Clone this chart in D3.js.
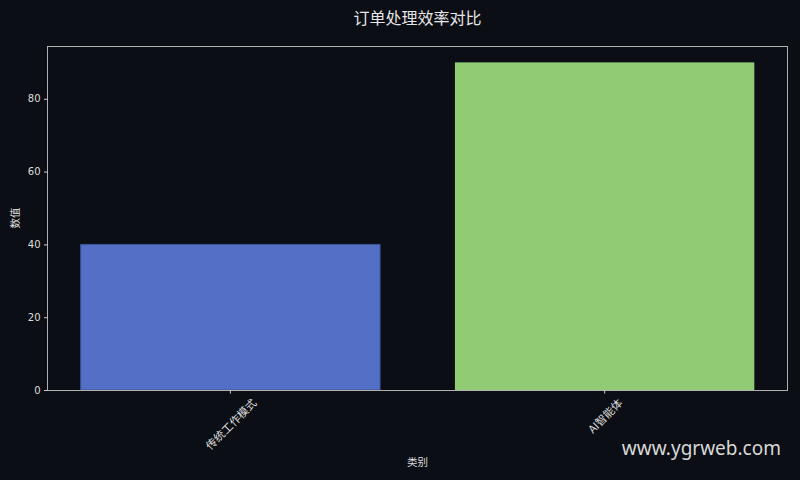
<!DOCTYPE html>
<html>
<head>
<meta charset="utf-8">
<script src="https://cdn.jsdelivr.net/npm/d3@7"></script>
<style>
  html, body { margin: 0; padding: 0; background: #0b0e14; }
  text { font-family: "Noto Sans CJK SC", "DejaVu Sans", sans-serif; }
</style>
</head>
<body>
<script>
const categories = ['传统工作模式', 'AI智能体']
const values = [40, 90]
const barColors = ['#5470c6', '#91cc75']
const yTicks = [0, 20, 40, 60, 80]

const width = 800
const height = 480
const margin = { top: 46, right: 12, bottom: 90, left: 47 }

const svg = d3.select('body')
  .append('svg')
  .attr('width', width)
  .attr('height', height)

svg.append('rect')
  .attr('width', width)
  .attr('height', height)
  .attr('fill', '#0b0e14')

const x = d3.scaleBand()
  .domain(categories)
  .range([margin.left, width - margin.right])
  .paddingInner(0.2)
  .paddingOuter(0.09)

const y = d3.scaleLinear()
  .domain([0, d3.max(values) * 1.05])
  .range([height - margin.bottom, margin.top])

// bars
svg.append('g')
  .selectAll('rect')
  .data(values)
  .join('rect')
  .attr('x', (d, i) => x(categories[i]))
  .attr('y', d => y(d))
  .attr('width', x.bandwidth())
  .attr('height', d => y(0) - y(d))
  .attr('fill', (d, i) => barColors[i])
  .attr('stroke', (d, i) => i === 0 ? '#3e5494' : 'none')
  .attr('stroke-width', 1)

// frame
svg.append('rect')
  .attr('x', margin.left + 0.5)
  .attr('y', margin.top + 0.5)
  .attr('width', width - margin.left - margin.right - 1)
  .attr('height', height - margin.top - margin.bottom)
  .attr('fill', 'none')
  .attr('stroke', '#b0b0b0')
  .attr('stroke-width', 1)

// y axis
const yAxis = svg.append('g')
  .attr('transform', `translate(${margin.left + 0.5},0)`)
  .call(d3.axisLeft(y).tickValues(yTicks).tickSize(3.5).tickPadding(3.5))

yAxis.select('.domain').remove()
yAxis.selectAll('line').attr('stroke', '#cccccc')
yAxis.selectAll('text')
  .attr('fill', '#dddddd')
  .attr('font-size', 10)
  .style('font-family', '"DejaVu Sans", sans-serif')

// x axis
const xAxis = svg.append('g')
  .attr('transform', `translate(0,${height - margin.bottom})`)
  .call(d3.axisBottom(x).tickSize(3.5).tickFormat(''))

xAxis.select('.domain').remove()
xAxis.selectAll('line').attr('stroke', '#cccccc')

// rotated category labels, bounding box centered under tick
const labels = svg.append('g')
categories.forEach((c) => {
  const cx = x(c) + x.bandwidth() / 2
  const t = labels.append('text')
    .attr('fill', '#dddddd')
    .attr('font-size', 11)
    .attr('text-anchor', 'middle')
    .attr('dominant-baseline', 'central')
    .text(c)
  const len = t.node().getComputedTextLength()
  const half = (len + 12) * Math.SQRT1_2 / 2
  const cy = height - margin.bottom + 6 + half
  t.attr('transform', `translate(${cx},${cy}) rotate(-45)`)
})

// title
svg.append('text')
  .attr('x', (margin.left + width - margin.right) / 2)
  .attr('y', 24)
  .attr('text-anchor', 'middle')
  .attr('fill', '#e6e6e6')
  .attr('font-size', 16)
  .text('订单处理效率对比')

// axis titles
svg.append('text')
  .attr('x', (margin.left + width - margin.right) / 2)
  .attr('y', 466)
  .attr('text-anchor', 'middle')
  .attr('fill', '#dddddd')
  .attr('font-size', 10.5)
  .text('类别')

svg.append('text')
  .attr('transform', `translate(19,${(margin.top + height - margin.bottom) / 2}) rotate(-90)`)
  .attr('text-anchor', 'middle')
  .attr('fill', '#dddddd')
  .attr('font-size', 10.5)
  .text('数值')

// watermark
svg.append('text')
  .attr('x', 781)
  .attr('y', 455)
  .attr('text-anchor', 'end')
  .attr('fill', '#d8d8d8')
  .attr('font-size', 19)
  .style('font-family', '"Noto Sans", "DejaVu Sans", sans-serif')
  .text('www.ygrweb.com')
</script>
</body>
</html>
